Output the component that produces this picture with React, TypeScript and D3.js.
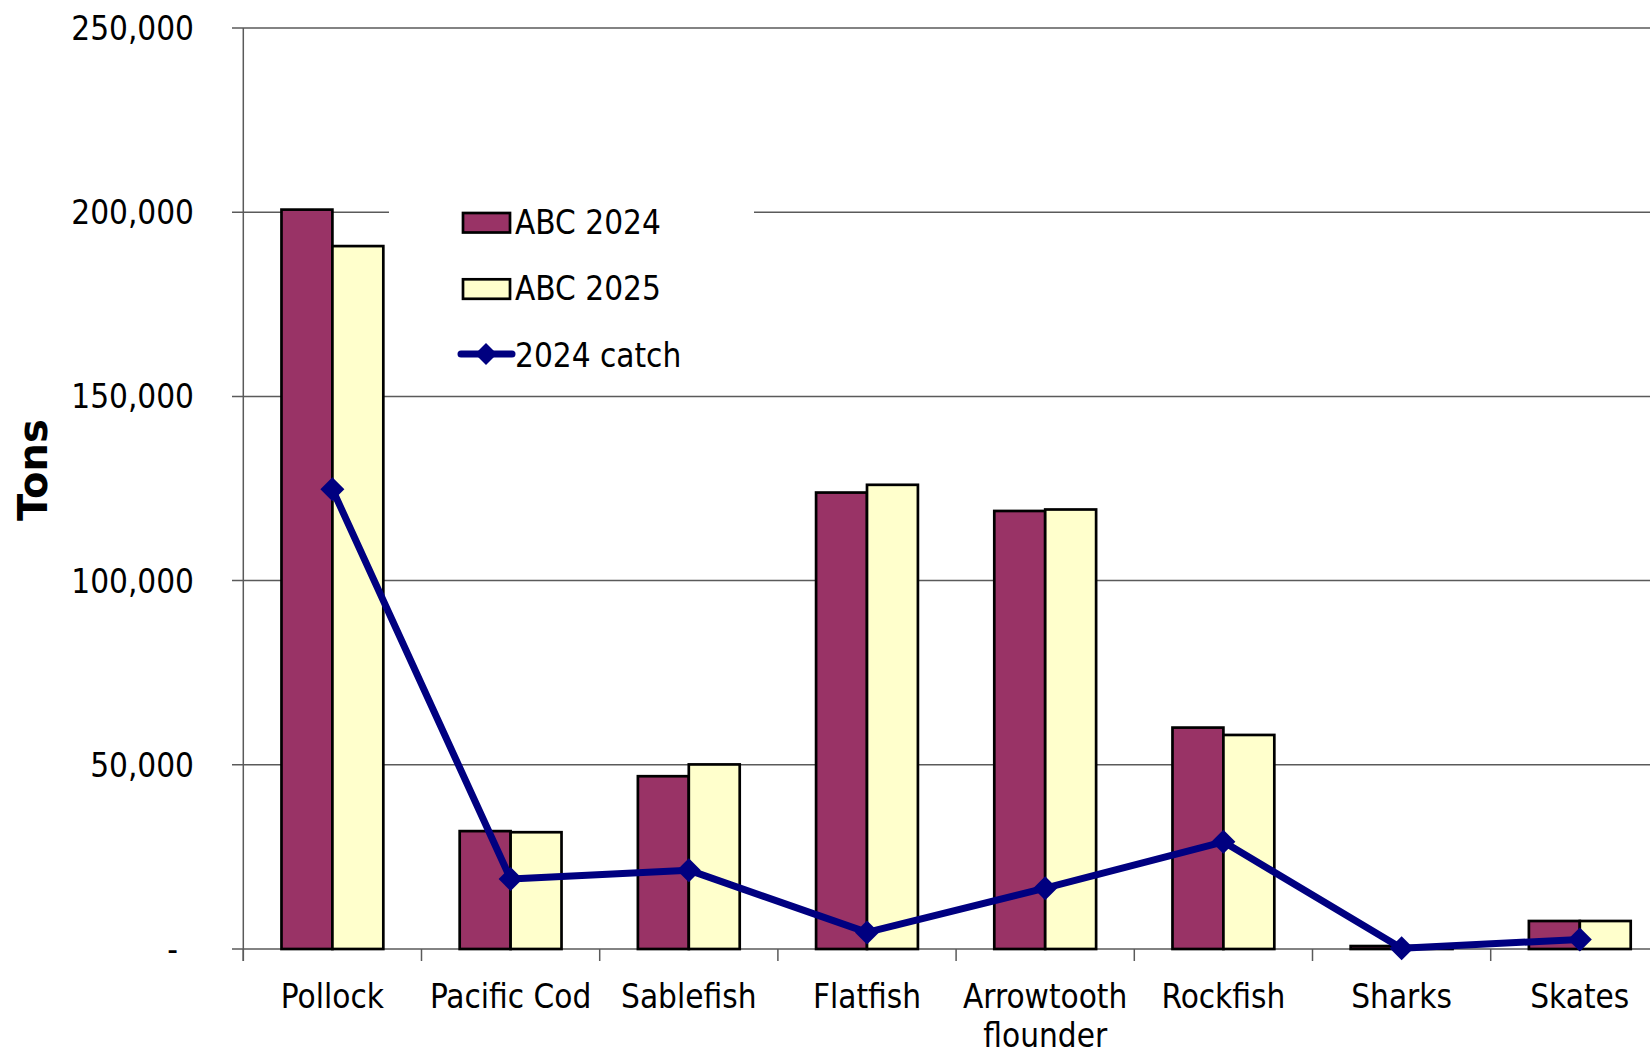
import React from "react";
import * as d3 from "d3";

const categories = ["Pollock", "Pacific Cod", "Sablefish", "Flatfish", "Arrowtooth flounder", "Rockfish", "Sharks", "Skates"];
const abc2024 = [200700, 32000, 46900, 123900, 118900, 60100, 800, 7600];
const abc2025 = [190800, 31700, 50100, 126000, 119300, 58100, 800, 7600];
const catch2024 = [124800, 19000, 21400, 4500, 16500, 29100, 200, 2600];
const yTicks = [0, 50000, 100000, 150000, 200000, 250000];
const seriesNames = ["ABC 2024", "ABC 2025", "2024 catch"];

const W = 1650;
const H = 1055;
const FONT = "'DejaVu Sans', Verdana, sans-serif";

export default function App() {
  const left = 243.3;
  const step = 178.2;
  const x = d3
    .scaleBand<string>()
    .domain(categories)
    .range([left, left + step * categories.length])
    .paddingInner(1.5 / 3.5)
    .paddingOuter(0.75 / 3.5);
  const sub = d3.scaleBand<number>().domain([0, 1]).range([0, x.bandwidth()]);
  const y = d3.scaleLinear().domain([0, 250000]).range([949, 28]);
  const fmt = d3.format(",");
  const cx = (c: string) => (x(c) as number) + x.bandwidth() / 2;
  const line = d3
    .line<number>()
    .x((_, i) => cx(categories[i]))
    .y((d) => y(d));
  const boundaries = d3.range(categories.length + 1).map((i) => left + i * step);
  const colors = ["#993366", "#FFFFCC"];
  const navy = "#000080";
  const grid = "#5a5a5a";
  const diamond = (px: number, py: number, r: number) =>
    `M${px},${py - r}L${px + r},${py}L${px},${py + r}L${px - r},${py}Z`;
  const textStyle: React.CSSProperties = { fontFamily: FONT, fontStretch: "condensed" };

  return (
    <svg width={W} height={H} style={{ position: "absolute", left: 0, top: 0, background: "#fff" }}>
      {yTicks.map((t) => (
        <line key={"g" + t} x1={232} x2={W} y1={y(t)} y2={y(t)} stroke={grid} strokeWidth={1.5} />
      ))}
      <line x1={left} x2={left} y1={y(250000)} y2={961} stroke={grid} strokeWidth={1.5} />
      {boundaries.map((b, i) => (
        <line key={"ct" + i} x1={b} x2={b} y1={y(0)} y2={961} stroke={grid} strokeWidth={1.5} />
      ))}
      {[abc2024, abc2025].map((vals, s) =>
        vals.map((v, i) => {
          const c = categories[i];
          const bx = (x(c) as number) + (sub(s) as number);
          return (
            <rect
              key={`b${s}-${i}`}
              x={bx}
              y={y(v)}
              width={sub.bandwidth()}
              height={y(0) - y(v)}
              fill={colors[s]}
              stroke="#000"
              strokeWidth={2.7}
            />
          );
        })
      )}
      <path d={line(catch2024) || ""} fill="none" stroke={navy} strokeWidth={7} strokeLinejoin="round" />
      {catch2024.map((v, i) => (
        <path key={"m" + i} d={diamond(cx(categories[i]), y(v), 12)} fill={navy} />
      ))}
      {yTicks.map((t) => (
        <text
          key={"yl" + t}
          x={t === 0 ? 178 : 194}
          y={y(t) + 12}
          textAnchor="end"
          fontSize={33}
          style={textStyle}
        >
          {t === 0 ? "-" : fmt(t)}
        </text>
      ))}
      {categories.map((c) => {
        const parts = c === "Arrowtooth flounder" ? ["Arrowtooth", "flounder"] : [c];
        return (
          <text key={"cl" + c} x={cx(c)} y={1007.5} textAnchor="middle" fontSize={33} style={textStyle}>
            {parts.map((p, j) => (
              <tspan key={j} x={cx(c)} dy={j === 0 ? 0 : 39.5}>
                {p}
              </tspan>
            ))}
          </text>
        );
      })}
      <text
        transform={`translate(47,470) rotate(-90)`}
        textAnchor="middle"
        fontSize={40}
        fontWeight="bold"
        style={{ fontFamily: FONT }}
      >
        Tons
      </text>
      <rect x={389} y={190} width={365} height={198} fill="#fff" />
      {seriesNames.map((n, i) => {
        const base = 234 + i * 66.3;
        return (
          <g key={"lg" + i}>
            {i < 2 ? (
              <rect x={463} y={base - 21} width={47} height={19.5} fill={colors[i]} stroke="#000" strokeWidth={2.7} />
            ) : (
              <g>
                <line x1={461} x2={512} y1={base - 12.5} y2={base - 12.5} stroke={navy} strokeWidth={7} strokeLinecap="round" />
                <path d={diamond(486, base - 12.5, 11)} fill={navy} />
              </g>
            )}
            <text x={515} y={base} fontSize={33} style={textStyle}>
              {n}
            </text>
          </g>
        );
      })}
    </svg>
  );
}
